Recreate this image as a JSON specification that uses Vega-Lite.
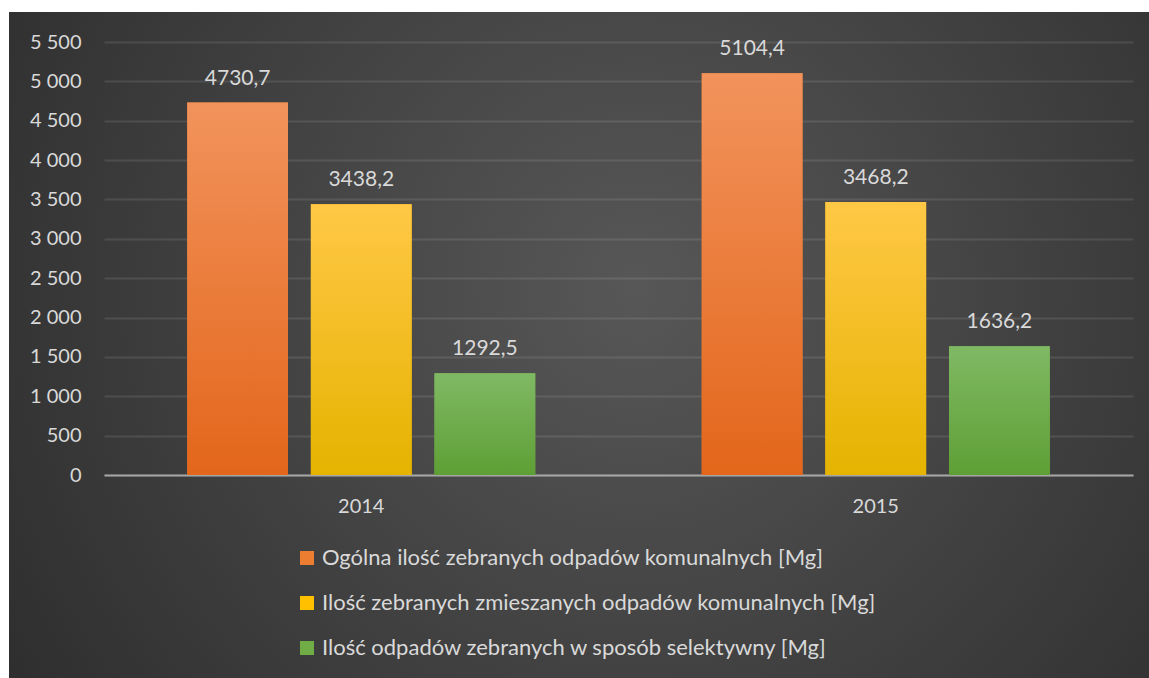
{
  "$schema": "https://vega.github.io/schema/vega-lite/v6.json",
  "width": 1140,
  "height": 666,
  "autosize": "none",
  "padding": {"left": 9, "top": 12, "right": 0, "bottom": 0},
  "background": "white",
  "config": {
    "locale": {"number": {"decimal": ",", "thousands": " ", "grouping": [3], "currency": ["", " zł"]}},
    "view": {
      "stroke": null,
      "fill": {"gradient": "radial", "x1": 0.55, "y1": 0.45, "r1": 0, "x2": 0.55, "y2": 0.45, "r2": 0.78,
        "stops": [{"offset": 0, "color": "#575757"}, {"offset": 1, "color": "#262626"}]}
    },
    "font": "Lato",
    "text": {"font": "Lato"}
  },
  "data": {
    "values": [
      {"year": "2014", "series": "Ogólna ilość zebranych odpadów komunalnych [Mg]", "value": 4730.7},
      {"year": "2014", "series": "Ilość zebranych zmieszanych odpadów komunalnych [Mg]", "value": 3438.2},
      {"year": "2014", "series": "Ilość odpadów zebranych w sposób selektywny [Mg]", "value": 1292.5},
      {"year": "2015", "series": "Ogólna ilość zebranych odpadów komunalnych [Mg]", "value": 5104.4},
      {"year": "2015", "series": "Ilość zebranych zmieszanych odpadów komunalnych [Mg]", "value": 3468.2},
      {"year": "2015", "series": "Ilość odpadów zebranych w sposób selektywny [Mg]", "value": 1636.2}
    ]
  },
  "encoding": {
    "x": {
      "field": "year", "type": "nominal",
      "scale": {"range": [95, 1124], "paddingInner": 0.3236, "paddingOuter": 0.1618},
      "axis": {"orient": "bottom", "offset": -203, "ticks": false, "tickSize": 0, "domainColor": "#a6a6a6", "domainWidth": 2,
        "labelPadding": 21, "labelFontSize": 20, "labelFont": "Lato", "labelColor": "#d9d9d9", "labelAngle": 0, "title": null, "grid": false}
    },
    "xOffset": {
      "field": "series", "type": "nominal",
      "scale": {"domain": ["Ogólna ilość zebranych odpadów komunalnych [Mg]", "Ilość zebranych zmieszanych odpadów komunalnych [Mg]", "Ilość odpadów zebranych w sposób selektywny [Mg]"], "paddingInner": 0.185, "paddingOuter": 0}
    },
    "y": {
      "field": "value", "type": "quantitative",
      "scale": {"domain": [0, 5500], "range": [463, 30], "nice": false},
      "axis": {"offset": -95, "ticks": false, "tickSize": 0, "domain": false, "labelPadding": 23, "labelFontSize": 20, "labelFont": "Lato",
        "labelColor": "#d9d9d9", "gridColor": "#ffffff", "gridOpacity": 0.1, "gridWidth": 2, "title": null,
        "values": [0, 500, 1000, 1500, 2000, 2500, 3000, 3500, 4000, 4500, 5000, 5500], "format": ",d"}
    }
  },
  "layer": [
    {
      "mark": {"type": "bar"},
      "encoding": {
        "color": {
          "field": "series", "type": "nominal",
          "scale": {"domain": ["Ogólna ilość zebranych odpadów komunalnych [Mg]", "Ilość zebranych zmieszanych odpadów komunalnych [Mg]", "Ilość odpadów zebranych w sposób selektywny [Mg]"],
            "range": ["#ed7d31", "#ffc000", "#70ad47"]},
          "legend": {"orient": "none", "legendX": 287, "legendY": 535, "direction": "vertical", "title": null, "symbolType": "square",
            "symbolSize": 196, "symbolStrokeWidth": 0, "labelFontSize": 22, "labelFont": "Lato", "labelColor": "#d9d9d9", "rowPadding": 23, "labelOffset": 4, "labelLimit": 800}
        }
      }
    },
    {
      "mark": {"type": "bar"},
      "encoding": {
        "fill": {
          "condition": [
            {"test": "datum.series === 'Ogólna ilość zebranych odpadów komunalnych [Mg]'",
              "value": {"gradient": "linear", "x1": 0, "y1": 0, "x2": 0, "y2": 1, "stops": [{"offset": 0, "color": "#f2935c"}, {"offset": 1, "color": "#e3661b"}]}},
            {"test": "datum.series === 'Ilość zebranych zmieszanych odpadów komunalnych [Mg]'",
              "value": {"gradient": "linear", "x1": 0, "y1": 0, "x2": 0, "y2": 1, "stops": [{"offset": 0, "color": "#ffc846"}, {"offset": 1, "color": "#e5b300"}]}}
          ],
          "value": {"gradient": "linear", "x1": 0, "y1": 0, "x2": 0, "y2": 1, "stops": [{"offset": 0, "color": "#80b964"}, {"offset": 1, "color": "#5e9f35"}]}
        }
      }
    },
    {
      "mark": {"type": "text", "dy": -18, "baseline": "alphabetic", "fontSize": 21, "font": "Lato", "fill": "#d9d9d9"},
      "encoding": {"text": {"field": "value", "type": "quantitative", "format": ".1f"}}
    }
  ]
}
